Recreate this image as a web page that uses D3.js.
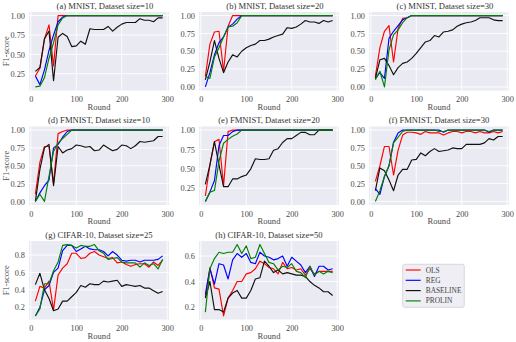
<!DOCTYPE html>
<html><head><meta charset="utf-8">
<script src="https://cdn.jsdelivr.net/npm/d3@7"></script>
<style>
body{margin:0;background:#fff}
svg{display:block}
text{font-family:"Liberation Serif","DejaVu Serif",serif}
</style>
</head><body>
<svg id="chart" width="516" height="342"></svg>
<script>
const rounds=[10,20,30,40,50,60,70,80,90,100,110,120,130,140,150,160,170,180,190,200,210,220,230,240,250,260,270,280,290];
const methods=["OLS","REG","BASELINE","PROLIN"];
const methodColors=["#ff0000","#0000ff","#111111","#008000"];
const xTicks=[0,100,200,300];
const yTicksUpper=[0,0.25,0.5,0.75,1.0];
const yTicksLower=[0.2,0.4,0.6,0.8];
const titles=["(a) MNIST, Dataset size=10","(b) MNIST, Dataset size=20","(c) MNIST, Dataset size=30",
"(d) FMNIST, Dataset size=10","(e) FMNIST, Dataset size=20","(f) FMNIST, Dataset size=30",
"(g) CIFAR-10, Dataset size=25","(h) CIFAR-10, Dataset size=50"];

// (a) MNIST 10
const OLS_a=[0.22,0.32,0.70,0.88,0.35,1,1,1,1,1,1,1,1,1,1,1,1,1,1,1,1,1,1,1,1,1,1,1,1];
const REG_a=[0.22,0.11,0.30,0.55,0.75,0.92,0.98,1,1,1,1,1,1,1,1,1,1,1,1,1,1,1,1,1,1,1,1,1,1];
const BASE_a=[0.28,0.33,0.70,0.80,0.16,0.72,0.77,0.73,0.60,0.61,0.67,0.63,0.83,0.82,0.82,0.82,0.86,0.80,0.85,0.89,0.91,0.91,0.91,0.96,0.94,0.94,0.92,0.97,0.97];
const PRO_a=[0.08,0.09,0.20,0.45,0.65,0.88,0.97,1,1,1,1,1,1,1,1,1,1,1,1,1,1,1,1,1,1,1,1,1,1];
// (b) MNIST 20
const OLS_b=[0.15,0.60,0.77,0.78,0.22,0.85,1,1,1,1,1,1,1,1,1,1,1,1,1,1,1,1,1,1,1,1,1,1,1];
const REG_b=[0.0,0.20,0.45,0.62,0.70,0.84,0.88,0.95,1,1,1,1,1,1,1,1,1,1,1,1,1,1,1,1,1,1,1,1,1];
const BASE_b=[0.10,0.35,0.65,0.40,0.20,0.35,0.45,0.42,0.50,0.55,0.58,0.60,0.65,0.65,0.67,0.70,0.72,0.74,0.83,0.82,0.84,0.88,0.93,0.91,0.91,0.89,0.93,0.91,0.93];
const PRO_b=[0.15,0.12,0.42,0.55,0.70,0.84,0.85,0.90,1,1,1,1,1,1,1,1,1,1,1,1,1,1,1,1,1,1,1,1,1];
// (c) MNIST 30
const OLS_c=[0.15,0.55,0.78,0.86,0.35,0.82,0.96,0.97,1,1,1,1,1,1,1,1,1,1,1,1,1,1,1,1,1,1,1,1,1];
const REG_c=[0.12,0.20,0.12,0.68,0.78,0.86,0.94,0.97,1,1,1,1,1,1,1,1,1,1,1,1,1,1,1,1,1,1,1,1,1];
const BASE_c=[0.12,0.38,0.40,0.30,0.17,0.27,0.33,0.35,0.40,0.47,0.55,0.63,0.65,0.72,0.70,0.77,0.78,0.80,0.85,0.88,0.90,0.91,0.93,0.97,0.97,0.97,0.94,0.93,0.93];
const PRO_c=[0.10,0.22,0.0,0.52,0.73,0.80,0.90,0.97,1,1,1,1,1,1,1,1,1,1,1,1,1,1,1,1,1,1,1,1,1];
// (d) FMNIST 10
const OLS_d=[0.10,0.55,0.77,0.77,0.25,0.95,0.98,1,1,1,1,1,1,1,1,1,1,1,1,1,1,1,1,1,1,1,1,1,1];
const REG_d=[0.0,0.12,0.22,0.30,0.75,0.80,0.90,0.98,1,1,1,1,1,1,1,1,1,1,1,1,1,1,1,1,1,1,1,1,1];
const BASE_d=[0.0,0.45,0.75,0.80,0.22,0.77,0.68,0.72,0.74,0.79,0.78,0.76,0.77,0.71,0.72,0.79,0.75,0.71,0.73,0.79,0.78,0.74,0.78,0.84,0.83,0.84,0.85,0.91,0.91];
const PRO_d=[0.0,0.10,0.0,0.35,0.70,0.82,0.88,0.94,1,1,1,1,1,1,1,1,1,1,1,1,1,1,1,1,1,1,1,1,1];
// (e) FMNIST 20
const OLS_e=[0.15,0.55,0.85,0.88,0.28,0.98,1,1,1,1,1,1,1,1,1,1,1,1,1,1,1,1,1,1,1,1,1,1,1];
const REG_e=[0.08,0.20,0.35,0.80,0.93,0.93,0.98,1,1,1,1,1,1,1,1,1,1,1,1,1,1,1,1,1,1,1,1,1,1];
const BASE_e=[0.30,0.55,0.85,0.55,0.27,0.27,0.37,0.37,0.40,0.42,0.50,0.63,0.62,0.62,0.63,0.74,0.76,0.84,0.89,0.89,0.93,0.97,0.97,0.94,0.94,1,1,1,1];
const PRO_e=[0.08,0.20,0.22,0.60,0.83,0.88,0.92,0.95,1,1,1,1,1,1,1,1,1,1,1,1,1,1,1,1,1,1,1,1,1];
// (f) FMNIST 30
const OLS_f=[0.28,0.50,0.77,0.77,0.37,0.72,0.93,0.97,0.97,0.96,0.94,0.98,0.96,0.96,0.96,0.93,0.96,0.98,0.98,0.96,0.98,0.98,0.96,0.98,0.96,0.96,0.98,0.96,0.98];
const REG_f=[0.18,0.10,0.35,0.50,0.83,0.96,1,1,1,1,1,1,1,1,1,0.97,1,1,1,1,1,1,1,1,1,0.97,1,1,1];
const BASE_f=[0.15,0.47,0.43,0.30,0.15,0.37,0.45,0.45,0.58,0.59,0.68,0.64,0.70,0.74,0.70,0.71,0.72,0.75,0.74,0.74,0.80,0.80,0.80,0.80,0.82,0.88,0.86,0.91,0.91];
const PRO_f=[0.0,0.15,0.35,0.50,0.82,0.90,0.98,1,1,1,1,1,1,1,0.98,0.98,1,1,1,1,1,1,1,1,1,0.98,1,1,1];
// (g) CIFAR-10 25
const OLS_g=[0.27,0.44,0.42,0.50,0.17,0.57,0.65,0.70,0.82,0.82,0.76,0.77,0.82,0.84,0.80,0.78,0.76,0.77,0.71,0.72,0.69,0.67,0.69,0.70,0.70,0.66,0.72,0.68,0.74];
const REG_g=[0.10,0.20,0.40,0.45,0.60,0.65,0.85,0.91,0.91,0.84,0.87,0.90,0.87,0.86,0.86,0.84,0.79,0.84,0.80,0.74,0.73,0.74,0.74,0.72,0.74,0.74,0.74,0.75,0.79];
const BASE_g=[0.46,0.59,0.40,0.30,0.16,0.18,0.27,0.27,0.32,0.37,0.45,0.43,0.47,0.46,0.46,0.50,0.49,0.50,0.51,0.44,0.46,0.45,0.44,0.45,0.42,0.42,0.39,0.36,0.38];
const PRO_g=[0.10,0.18,0.47,0.47,0.62,0.72,0.91,0.92,0.91,0.88,0.91,0.90,0.90,0.92,0.85,0.82,0.75,0.76,0.77,0.72,0.71,0.71,0.71,0.66,0.71,0.68,0.70,0.64,0.75];
// (h) CIFAR-10 50
const OLS_h=[0.28,0.51,0.35,0.34,0.13,0.27,0.33,0.40,0.40,0.46,0.47,0.50,0.56,0.54,0.51,0.50,0.46,0.55,0.50,0.51,0.49,0.50,0.45,0.50,0.46,0.48,0.48,0.48,0.48];
const REG_h=[0.30,0.50,0.38,0.54,0.53,0.42,0.57,0.62,0.59,0.62,0.55,0.54,0.63,0.60,0.59,0.57,0.58,0.60,0.52,0.59,0.56,0.53,0.47,0.52,0.44,0.52,0.52,0.49,0.50];
const BASE_h=[0.27,0.40,0.18,0.18,0.16,0.27,0.31,0.33,0.27,0.27,0.33,0.42,0.43,0.56,0.52,0.47,0.49,0.46,0.47,0.46,0.45,0.45,0.44,0.40,0.37,0.35,0.32,0.32,0.29];
const PRO_h=[0.16,0.50,0.58,0.63,0.62,0.63,0.63,0.69,0.62,0.68,0.58,0.59,0.69,0.62,0.55,0.54,0.49,0.52,0.51,0.54,0.48,0.47,0.43,0.52,0.45,0.48,0.46,0.48,0.47];

const panelSeries=[
 [OLS_a,REG_a,BASE_a,PRO_a],[OLS_b,REG_b,BASE_b,PRO_b],[OLS_c,REG_c,BASE_c,PRO_c],
 [OLS_d,REG_d,BASE_d,PRO_d],[OLS_e,REG_e,BASE_e,PRO_e],[OLS_f,REG_f,BASE_f,PRO_f],
 [OLS_g,REG_g,BASE_g,PRO_g],[OLS_h,REG_h,BASE_h,PRO_h]];

const svg=d3.select("#chart");
const colLeft=[29,199,369], plotW=140;
const rowTop=[12,126.5,241], plotH=78.5;
const bg="#EAEAF2", tickColor="#4a4a4a";

panelSeries.forEach((series,i)=>{
  const row=Math.floor(i/3), col=i%3;
  const x0=colLeft[col], y0=rowTop[row];
  const g=svg.append("g").attr("transform",`translate(${x0},${y0})`);
  const x=d3.scaleLinear().domain([-4,304]).range([0,plotW]);
  const all=series.flat();
  const mn=d3.min(all), mx=d3.max(all), pad=(mx-mn)*0.05;
  const y=d3.scaleLinear().domain([mn-pad,mx+pad]).range([plotH,0]);
  const yt=(row<2?yTicksUpper:yTicksLower).filter(v=>v>=y.domain()[0]&&v<=y.domain()[1]);
  const fmt=row<2?d3.format(".2f"):d3.format(".1f");

  g.append("rect").attr("width",plotW).attr("height",plotH).attr("fill",bg);
  g.selectAll(".gx").data(xTicks.filter(v=>v>=-4&&v<=304)).join("line")
    .attr("x1",d=>x(d)).attr("x2",d=>x(d)).attr("y1",0).attr("y2",plotH)
    .attr("stroke","#fff").attr("stroke-width",0.9);
  g.selectAll(".gy").data(yt).join("line")
    .attr("y1",d=>y(d)).attr("y2",d=>y(d)).attr("x1",0).attr("x2",plotW)
    .attr("stroke","#fff").attr("stroke-width",0.9);
  const xa=g.append("g").attr("transform",`translate(0,${plotH})`)
    .call(d3.axisBottom(x).tickValues(xTicks).tickSize(0).tickPadding(6).tickFormat(d3.format("d")));
  const ya=g.append("g").call(d3.axisLeft(y).tickValues(yt).tickSize(0).tickPadding(4).tickFormat(fmt));
  [xa,ya].forEach(a=>{a.select(".domain").remove();
    a.selectAll("text").attr("fill",tickColor).style("font-size","8.3px").style("font-family",'"Liberation Serif",serif');});
  const line=d3.line().x((d,k)=>x(rounds[k])).y(d=>y(d));
  series.forEach((s,k)=>{
    g.append("path").datum(s).attr("d",line).attr("fill","none")
      .attr("stroke",methodColors[k]).attr("stroke-width",1.15).attr("stroke-linejoin","round");
  });
  g.append("text").attr("x",plotW/2+(row===0?6:0)).attr("y",-3.5).attr("text-anchor","middle")
    .attr("fill","#333").style("font-size","8.6px").text(titles[i]);
  g.append("text").attr("x",plotW/2).attr("y",plotH+19).attr("text-anchor","middle")
    .attr("fill",tickColor).style("font-size","8.6px").text("Round");
  if(col===0){
    g.append("text").attr("transform",`translate(${-20.5},${plotH/2}) rotate(-90)`)
      .attr("text-anchor","middle").attr("fill",tickColor).style("font-size","8.6px").text("F1-score");
  }
});

const lg=svg.append("g").attr("transform","translate(402.7,264.3)");
lg.append("rect").attr("width",61.6).attr("height",43).attr("rx",2)
  .attr("fill","#EEEEF4").attr("stroke","#d0d0d6").attr("stroke-width",0.8);
methods.forEach((m,k)=>{
  const yy=5.7+k*10.3;
  lg.append("line").attr("x1",3).attr("x2",18).attr("y1",yy).attr("y2",yy)
    .attr("stroke",methodColors[k]).attr("stroke-width",1.15);
  lg.append("text").attr("x",23).attr("y",yy+2.6).attr("fill","#444")
    .style("font-size","7.4px").text(m);
});
</script>
</body></html>
